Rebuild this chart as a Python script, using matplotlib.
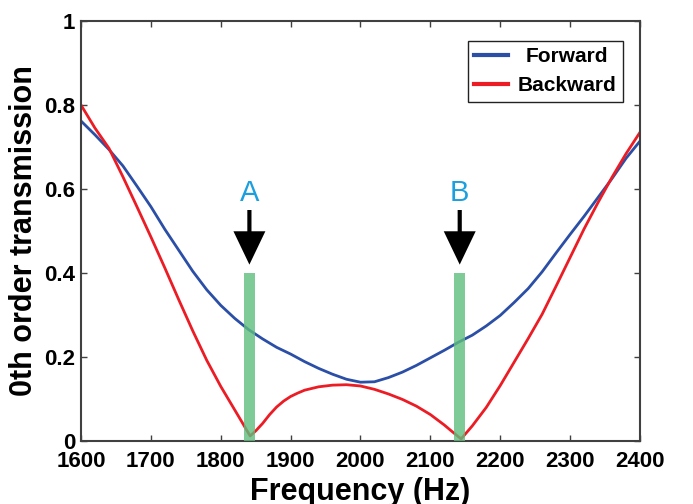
import matplotlib
matplotlib.use("Agg")
import matplotlib.pyplot as plt

# Zeroth-order transmission spectra
freq = [1600, 1620, 1640, 1660, 1680, 1700, 1720, 1740, 1760, 1780,
        1800, 1820, 1840, 1860, 1880, 1900, 1920, 1940, 1960, 1980,
        2000, 2020, 2040, 2060, 2080, 2100, 2120, 2140, 2160, 2180,
        2200, 2220, 2240, 2260, 2280, 2300, 2320, 2340, 2360, 2380, 2400]
forward = [0.762, 0.729, 0.694, 0.655, 0.607, 0.558, 0.504, 0.454, 0.404, 0.360,
           0.323, 0.292, 0.265, 0.243, 0.223, 0.207, 0.189, 0.173, 0.159, 0.147,
           0.140, 0.141, 0.151, 0.164, 0.180, 0.198, 0.216, 0.235, 0.252, 0.274,
           0.299, 0.330, 0.363, 0.403, 0.448, 0.492, 0.535, 0.580, 0.625, 0.673, 0.714]

freq_back = [1600, 1620, 1640, 1660, 1680, 1700, 1720, 1740, 1760, 1780,
             1800, 1820, 1830, 1842, 1850, 1860, 1870, 1880, 1890, 1900,
             1910, 1920, 1940, 1960, 1980, 2000, 2020, 2040, 2060, 2080,
             2100, 2120, 2130, 2144, 2160, 2180, 2200, 2220, 2240, 2260,
             2280, 2300, 2320, 2340, 2360, 2380, 2400]
backward = [0.800, 0.745, 0.697, 0.629, 0.558, 0.486, 0.412, 0.336, 0.262, 0.192,
            0.130, 0.074, 0.046, 0.012, 0.024, 0.042, 0.063, 0.081, 0.095, 0.106,
            0.114, 0.121, 0.129, 0.133, 0.134, 0.131, 0.123, 0.112, 0.099, 0.083,
            0.063, 0.038, 0.024, 0.005, 0.036, 0.080, 0.132, 0.188, 0.244, 0.302,
            0.369, 0.437, 0.505, 0.568, 0.628, 0.684, 0.735]

# Highlighted operating frequencies
mark_freq = [1841, 2142]
mark_height = [0.4, 0.4]
mark_labels = ["A", "B"]
arrow_top = 0.55
arrow_tip = 0.42
label_y = 0.59

xticks = [1600, 1700, 1800, 1900, 2000, 2100, 2200, 2300, 2400]
xtick_labels = ["1600", "1700", "1800", "1900", "2000", "2100", "2200", "2300", "2400"]
yticks = [0, 0.2, 0.4, 0.6, 0.8, 1.0]
ytick_labels = ["0", "0.2", "0.4", "0.6", "0.8", "1"]

plt.rcParams["font.family"] = ["Liberation Sans", "DejaVu Sans"]

fig = plt.figure(figsize=(6.93, 5.04), dpi=100)
ax = fig.add_axes([0.1169, 0.125, 0.8066, 0.8333])

blue = "#2b4ea6"
red = "#ec1c24"
ax.plot(freq, forward, color=blue, lw=2.0, label="Forward", zorder=2)
ax.plot(freq_back, backward, color=red, lw=2.0, label="Backward", zorder=2)

ax.bar(mark_freq, mark_height, width=15, color="#5fbf7f", alpha=0.8,
       edgecolor="none", zorder=3)

for f, lab in zip(mark_freq, mark_labels):
    ax.annotate("", xy=(f, arrow_tip), xytext=(f, arrow_top),
                arrowprops=dict(facecolor="black", edgecolor="none",
                                width=3.0, headwidth=23, headlength=24, shrink=0),
                zorder=4)
    ax.text(f, label_y, lab, color="#1b9fde", fontsize=21,
            ha="center", va="center", zorder=4)

ax.set_xlim(1600, 2400)
ax.set_ylim(0, 1)
ax.set_xticks(xticks)
ax.set_xticklabels(xtick_labels, fontsize=16, fontweight="bold")
ax.set_yticks(yticks)
ax.set_yticklabels(ytick_labels, fontsize=16, fontweight="bold")
ax.tick_params(axis="both", direction="in", length=4.5, width=1.0,
               color="#404040", top=True, right=True)
ax.tick_params(axis="x", pad=7)
ax.tick_params(axis="y", pad=4)

for s in ax.spines.values():
    s.set_linewidth(1.5)
    s.set_color("#404040")

ax.set_xlabel("Frequency (Hz)", fontsize=22, fontweight="bold", labelpad=4)
ax.set_ylabel("0th order transmission", fontsize=22, fontweight="bold", labelpad=4)

leg = ax.legend(loc="upper right", bbox_to_anchor=(0.969, 0.953), borderaxespad=0,
                prop={"size": 15, "weight": "bold"}, fancybox=False,
                edgecolor="#222222", framealpha=1, handlelength=1.65,
                handletextpad=0.45, borderpad=0.3, labelspacing=0.5)
leg.get_frame().set_linewidth(1.0)
for line in leg.get_lines():
    line.set_linewidth(3.0)

# centre the shorter legend entry under the longer one
fig.canvas.draw()
renderer = fig.canvas.get_renderer()
texts = leg.get_texts()
widths = [t.get_window_extent(renderer).width for t in texts]
wmax = max(widths)
for t, w in zip(texts, widths):
    t.set_position(((wmax - w) / 2.0, 0))

fig.savefig("out.png", dpi=100)
